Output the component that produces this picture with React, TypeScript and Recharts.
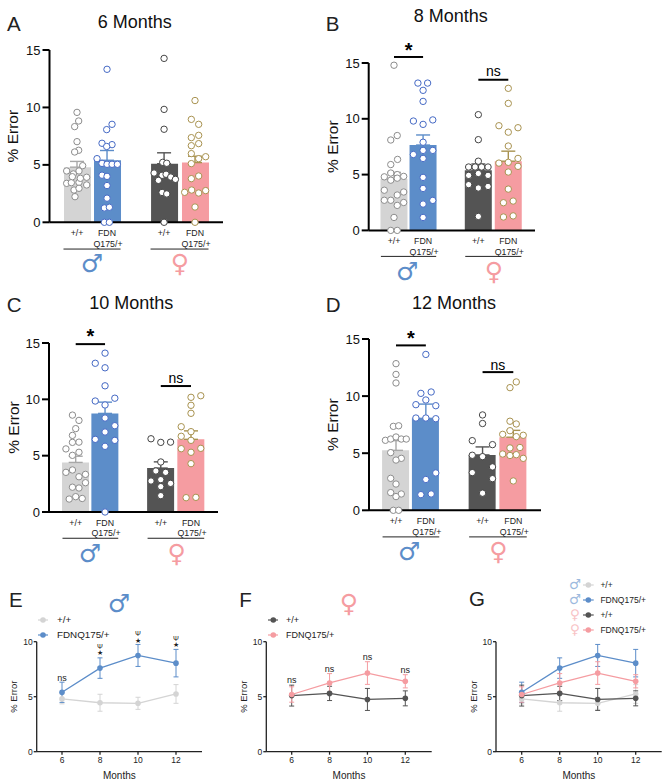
import React from "react";
import {
  ComposedChart, LineChart, Bar, Cell, Scatter, Line, XAxis, YAxis, ErrorBar,
  ReferenceLine, ReferenceDot, Legend,
} from "recharts";

type Pt = [number, number];

// Swarm dots: [horizontal jitter, % error]
const m6MaleWT: Pt[] = [[0,9.57],[5,8.82],[-7,8.33],[0,7.02],[5,6.27],[-7,6.12],[17,4.93],[-31,4.47],[6,4.47],[-11,4.21],[29,3.92],[-31,3.39],[-17,3.45],[6,3.48],[29,3.25],[-9,2.81],[6,2.96],[-6,2.23],[-14,3.97],[10,3.83]];
const m6MaleKO: Pt[] = [[0,13.32],[15,8.53],[-1,8.07],[-15,6.88],[15,6.76],[-1,6.6],[-30,5.54],[-15,5.13],[0,5.05],[15,5.05],[31,5.05],[-15,4.1],[0,4.0],[0,3.2],[0,2.1],[-8,1.25],[7,1.31],[-8,0],[7,0]];
const m6FemaleWT: Pt[] = [[0,14.27],[0,9.83],[0,8.1],[-4,5.22],[8,5.14],[-30,4.29],[-6,4.09],[6,4.18],[20,3.94],[34,3.74],[-17,3.65],[-6,2.6],[8,2.47],[0,0]];
const m6FemaleKO: Pt[] = [[0,10.6],[-11,8.96],[11,8.53],[-11,7.37],[11,7.57],[-11,6.67],[11,6.85],[-11,5.98],[11,5.54],[32,5.71],[-11,5.11],[-11,3.8],[11,4.03],[-31,2.61],[-10,2.81],[11,2.55],[32,2.76],[0,1.33],[0,0]];

const m8MaleWT: Pt[] = [[0,14.8],[10,8.5],[-10,8.1],[11,6.36],[-10,5.9],[-10,5.14],[10,5.0],[-30,4.8],[10,4.68],[30,4.84],[-10,4.5],[-30,3.6],[30,3.44],[10,3.17],[-30,2.7],[-10,2.7],[10,2.24],[30,2.5],[0,1.16],[-10,0],[10,0]];
const m8MaleKO: Pt[] = [[-16,13.2],[14,13.2],[0,12.55],[0,11.56],[-30,9.8],[30,9.9],[0,9.5],[0,7.9],[-30,6.8],[30,7.17],[0,7.17],[0,6.45],[0,4.75],[0,3.76],[0,2.36],[30,2.69],[0,1.16]];
const m8FemaleWT: Pt[] = [[0,10.37],[0,8.13],[0,6.2],[-30,5.68],[-10,5.68],[10,5.68],[30,5.68],[-30,4.93],[0,5.1],[30,4.93],[-30,4.1],[0,3.8],[30,3.94],[0,1.25]];
const m8FemaleKO: Pt[] = [[0,12.73],[0,11.38],[-29,9.38],[30,9.2],[0,8.8],[0,7.56],[30,6.45],[-29,6.03],[0,6.1],[30,5.74],[0,5.23],[0,3.7],[-15,2.48],[15,2.63],[-15,1.2],[15,1.3]];

const m10MaleWT: Pt[] = [[-10,8.6],[10,8.13],[0,7.4],[-10,6.8],[-10,6.18],[10,6.2],[-30,5.6],[10,5.3],[-10,5.03],[-30,3.52],[-10,3.73],[30,3.34],[10,3.13],[30,2.6],[-10,2.2],[10,2.13],[-20,1.15],[0,1.36],[20,1.2]];
const m10MaleKO: Pt[] = [[0,14.1],[-30,13.2],[0,12.8],[0,11.2],[-30,9.85],[30,10.1],[0,9.5],[0,8.34],[30,7.66],[0,7.1],[-30,6.45],[30,6.36],[0,5.83],[0,0]];
const m10FemaleWT: Pt[] = [[-30,6.5],[0,6.18],[30,6.2],[0,4.44],[-15,3.64],[15,3.52],[0,2.87],[-30,2.75],[30,2.54],[0,2.25],[0,1.45]];
const m10FemaleKO: Pt[] = [[30,10.32],[0,10.18],[0,9.47],[0,8.76],[-30,7.57],[0,7.13],[-30,6.72],[0,6.36],[-30,5.62],[0,5.3],[30,5.65],[0,4.29],[-15,1.27],[15,1.3]];

const m12MaleWT: Pt[] = [[0,12.84],[0,11.9],[0,11.15],[-8,7.35],[8,7.4],[-32,6.13],[-16,6.24],[0,6.42],[16,6.24],[31,6.24],[-16,5.05],[16,4.55],[0,4.4],[-16,2.8],[0,2.3],[-16,1.55],[16,1.43],[0,1.2],[-8,0],[8,0]];
const m12MaleKO: Pt[] = [[0,13.65],[-15,10.24],[16,10.36],[0,9.66],[-30,9.25],[30,9.16],[-30,8.08],[0,8.08],[30,8.02],[30,3.27],[0,2.7],[-15,1.37],[16,1.43]];
const m12FemaleWT: Pt[] = [[0,8.35],[0,7.6],[-31,6.1],[30,5.75],[-31,4.82],[0,4.7],[30,3.8],[-31,3.3],[30,2.77],[0,1.5]];
const m12FemaleKO: Pt[] = [[9,11.24],[-10,10.74],[-10,7.8],[9,7.56],[-10,6.97],[-32,6.65],[30,6.57],[9,6.45],[-10,5.46],[20,5.5],[-32,4.93],[-10,4.8],[9,4.87],[30,4.55],[0,2.57]];

// Bar means and SEM, in order male +/+, male FDNQ175/+, female +/+, female FDNQ175/+
const m6Means = [4.8, 5.4, 5.1, 5.2];
const m6Sem = [0.5, 0.85, 0.95, 0.55];
const m8Means = [4.6, 7.65, 5.4, 6.2];
const m8Sem = [0.6, 0.9, 0.55, 0.9];
const m10Means = [4.4, 8.75, 3.9, 6.45];
const m10Sem = [0.55, 1.0, 0.55, 0.75];
const m12Means = [5.25, 8.05, 4.85, 6.4];
const m12Sem = [0.85, 1.25, 0.7, 0.6];

// Longitudinal
const months = [6, 8, 10, 12];
const maleWT = [4.8, 4.45, 4.4, 5.25];
const maleWTErr = [0.45, 0.77, 0.55, 0.85];
const maleKO = [5.4, 7.6, 8.75, 8.05];
const maleKOErr = [0.92, 0.93, 1.0, 1.25];
const femaleWT = [5.1, 5.3, 4.75, 4.85];
const femaleWTErr = [0.95, 0.65, 1.0, 0.68];
const femaleKO = [5.2, 6.25, 7.15, 6.4];
const femaleKOErr = [0.7, 0.85, 1.03, 0.6];

const genotypeLabels = ["+/+", "FDN|Q175/+", "+/+", "FDN|Q175/+"];
const groupX = [1, 2, 3.9, 4.93];
const barColors = ["#d4d4d4", "#5c8dc9", "#545454", "#f59ca1"];
const errColors = ["#a8a8a8", "#5c8dc9", "#545454", "#a8924f"];
const dotColors = ["#8c8c8c", "#4468c4", "#444444", "#a8924f"];

const FONT = "'Liberation Sans', Arial, sans-serif";
const BLUE = "#5c8dc9";
const PINK = "#f59ca1";

type Sig = { pair: number; label: string; lineY: number; textY: number };

function BarPanel(p: {
  left: number; axisX: number; topY: number; zeroY: number; endX: number; c0: number; c3: number;
  means: number[]; sem: number[]; dots: Pt[][]; sigs: Sig[]; width: number;
}) {
  const T = p.topY - 40;
  const height = p.zeroY + 60 - T;
  const s = (p.c3 - p.c0) / (groupX[3] - groupX[0]);
  const domain: [number, number] = [(p.axisX - p.c0) / s + 1, (p.endX - p.c0) / s + 1];
  const rows = p.means.map((y, i) => ({ x: groupX[i], y, sem: [0, p.sem[i]] }));
  return (
    <div style={{ position: "absolute", left: p.left, top: T }}>
      <ComposedChart
        width={p.width}
        height={height}
        data={rows}
        margin={{ top: p.topY - T, left: 0, right: p.left + p.width - p.endX, bottom: 30 }}
      >
        <XAxis
          dataKey="x"
          type="number"
          domain={domain}
          ticks={groupX}
          height={30}
          interval={0}
          allowDataOverflow
          stroke="#000"
          strokeWidth={2}
          tickLine={false}
          tick={(t: any) => {
            const i = groupX.indexOf(t.payload.value);
            const parts = (genotypeLabels[i] ?? "").split("|");
            return (
              <g>
                {parts.map((w, k) => (
                  <text key={k} x={t.x + (k === 1 ? 1 : 0)} y={p.zeroY - T + 14 + k * 10.3} textAnchor="middle" fontSize={8.8} fontFamily={FONT} fill="#222">
                    {w}
                  </text>
                ))}
              </g>
            );
          }}
        />
        <XAxis xAxisId="dots" dataKey="x" type="number" domain={domain} allowDataOverflow hide height={0} />
        <YAxis
          type="number"
          domain={[0, 15]}
          ticks={[0, 5, 10, 15]}
          width={p.axisX - p.left}
          stroke="#000"
          strokeWidth={2}
          tickSize={7}
          tickMargin={2}
          tick={{ fontSize: 13, fontFamily: FONT, fill: "#111" }}
          label={{
            content: () => {
              const cx = 13;
              const cy = p.topY - T + (p.zeroY - p.topY) / 2;
              return (
                <text x={cx} y={cy} transform={`rotate(-90 ${cx} ${cy})`} textAnchor="middle" dominantBaseline="central" fontSize={15.5} fontFamily={FONT} fill="#111">
                  % Error
                </text>
              );
            },
          }}
        />
        <Bar dataKey="y" barSize={27} isAnimationActive={false}>
          {rows.map((_, i) => (
            <Cell key={i} fill={barColors[i]} />
          ))}
        </Bar>
        {rows.map((r, i) => (
          <Scatter key={"e" + i} xAxisId="dots" data={[r]} dataKey="y" shape={() => <g />} isAnimationActive={false}>
            <ErrorBar dataKey="sem" direction="y" width={7} stroke={errColors[i]} strokeWidth={1.4} isAnimationActive={false} />
          </Scatter>
        ))}
        {p.dots.map((set, i) => (
          <Scatter
            key={"d" + i}
            xAxisId="dots"
            data={set.map(([j, y]) => ({ x: groupX[i] + j / 90, y }))}
            dataKey="y"
            isAnimationActive={false}
            shape={(d: any) => <circle cx={d.cx} cy={d.cy} r={3.2} fill="#fff" stroke={dotColors[i]} strokeWidth={1} />}
          />
        ))}
        {[0, 2].map((g) => (
          <ReferenceLine
            key={"u" + g}
            ifOverflow="visible"
            stroke="#222"
            strokeWidth={1}
            segment={[{ x: groupX[g] - 0.45, y: -2.33 }, { x: groupX[g + 1] + 0.45, y: -2.33 }]}
          />
        ))}
        {p.sigs.map((g, k) => (
          <ReferenceLine
            key={"s" + k}
            ifOverflow="visible"
            stroke="#000"
            strokeWidth={2}
            segment={[{ x: groupX[g.pair], y: g.lineY }, { x: groupX[g.pair + 1], y: g.lineY }]}
          />
        ))}
        {p.sigs.map((g, k) => (
          <ReferenceDot
            key={"t" + k}
            x={(groupX[g.pair] + groupX[g.pair + 1]) / 2}
            y={g.textY}
            r={0}
            ifOverflow="visible"
            label={{
              value: g.label,
              position: "center",
              fontSize: g.label === "*" ? 20 : 14,
              fontWeight: g.label === "*" ? 700 : 400,
              fontFamily: FONT,
              fill: "#000",
            }}
          />
        ))}
      </ComposedChart>
    </div>
  );
}

type Ser = { name: string; values: number[]; errs: number[]; color: string };
type Note = { m: number; y: number; text: string; size: number };

function LinePanel(p: {
  left: number; width: number; axisX: number; x6: number; x12: number; endX: number;
  series: Ser[]; notes: Note[]; legend: { top: number; left: number; rowH: number; font: number; symbols?: { ch: string; color: string }[]; lineW: number; gap: number };
}) {
  const T = 570;
  const H = 214;
  const zero = 751.7;
  const ten = 641.7;
  const s = (p.x12 - p.x6) / 6;
  const domain: [number, number] = [6 + (p.axisX - p.x6) / s, 6 + (p.endX - p.x6) / s];
  const rows = months.map((m, i) => {
    const r: any = { m };
    p.series.forEach((c, k) => {
      r["v" + k] = c.values[i];
      r["e" + k] = c.errs[i];
    });
    return r;
  });
  return (
    <div style={{ position: "absolute", left: p.left, top: T }}>
      <LineChart
        width={p.width}
        height={H}
        data={rows}
        margin={{ top: ten - T, left: 0, right: p.left + p.width - p.endX, bottom: T + H - zero - 30 }}
      >
        <XAxis
          dataKey="m"
          type="number"
          domain={domain}
          ticks={months}
          interval={0}
          allowDataOverflow
          height={30}
          stroke="#222"
          strokeWidth={1.3}
          tickSize={3}
          tickMargin={2}
          tick={{ fontSize: 8.5, fontFamily: FONT, fill: "#222" }}
          label={{ value: "Months", position: "insideBottom", offset: 3, fontSize: 10, fontFamily: FONT, fill: "#222" }}
        />
        <YAxis
          type="number"
          domain={[0, 10]}
          ticks={[0, 5, 10]}
          width={p.axisX - p.left}
          stroke="#222"
          strokeWidth={1.3}
          tickSize={3}
          tickMargin={1}
          tick={{ fontSize: 8.5, fontFamily: FONT, fill: "#222" }}
          label={{
            content: () => {
              const cx = p.axisX - p.left - 22.7;
              const cy = (zero + ten) / 2 - T;
              return (
                <text x={cx} y={cy} transform={`rotate(-90 ${cx} ${cy})`} textAnchor="middle" dominantBaseline="central" fontSize={9.5} fontFamily={FONT} fill="#222">
                  % Error
                </text>
              );
            },
          }}
        />
        <Legend
          layout="vertical"
          align="center"
          verticalAlign="middle"
          itemSorter={null}
          wrapperStyle={{ top: p.legend.top, left: p.legend.left, width: "auto", transform: "none" }}
          content={(c: any) => (
            <div>
              {(c.payload ?? []).map((e: any, i: number) => (
                <div key={i} style={{ position: "relative", height: p.legend.rowH, display: "flex", alignItems: "center", fontFamily: FONT, fontSize: p.legend.font, color: "#222", whiteSpace: "nowrap" }}>
                  {p.legend.symbols && (
                    <span style={{ width: 10, marginRight: 3, display: "flex", justifyContent: "center", fontFamily: "'DejaVu Sans'", fontSize: 13.5, lineHeight: "15px", color: p.legend.symbols[i].color, opacity: 0.6 }}>{p.legend.symbols[i].ch}</span>
                  )}
                  <svg width={p.legend.lineW} height={8} style={{ marginRight: p.legend.gap }}>
                    <line x1={0} y1={4} x2={p.legend.lineW} y2={4} stroke={e.color} strokeWidth={1.2} />
                    <circle cx={p.legend.lineW / 2} cy={4} r={2.8} fill={e.color} />
                  </svg>
                  <span>{e.value}</span>
                </div>
              ))}
            </div>
          )}
        />
        {p.series.map((c, k) => (
          <Line
            key={k}
            dataKey={"v" + k}
            name={c.name}
            type="linear"
            stroke={c.color}
            strokeWidth={1.3}
            dot={{ r: 2.8, fill: c.color, stroke: c.color, strokeWidth: 0 }}
            activeDot={false}
            isAnimationActive={false}
          >
            <ErrorBar dataKey={"e" + k} direction="y" width={2.5} stroke={c.color} strokeWidth={1} isAnimationActive={false} />
          </Line>
        ))}
        {p.notes.map((n, k) => (
          <ReferenceDot
            key={k}
            x={n.m}
            y={n.y}
            r={0}
            ifOverflow="visible"
            label={{ value: n.text, position: "center", fontSize: n.size, fontFamily: FONT, fill: "#222" }}
          />
        ))}
      </LineChart>
    </div>
  );
}

const titles: [string, number, number][] = [
  ["6 Months", 97.7, 28],
  ["8 Months", 413.7, 22],
  ["10 Months", 89.3, 309],
  ["12 Months", 412, 309],
];
const letters: [string, number, number][] = [
  ["A", 7, 30.5],
  ["B", 325.7, 30.7],
  ["C", 6.7, 311.7],
  ["D", 325.7, 311.7],
  ["E", 9, 607],
  ["F", 239.3, 606.7],
  ["G", 469, 606],
];
const MARK = 25;
const sexMarks: [string, number, number, number, string][] = [
  ["♂", 92, 263, MARK, BLUE],
  ["♀", 180, 263, MARK, PINK],
  ["♂", 407.3, 271.7, MARK, BLUE],
  ["♀", 494, 271.7, MARK, PINK],
  ["♂", 90, 553, MARK, BLUE],
  ["♀", 176.7, 553, MARK, PINK],
  ["♂", 409.3, 551.7, MARK, BLUE],
  ["♀", 498.3, 551.7, MARK, PINK],
  ["♂", 119, 603, MARK, BLUE],
  ["♀", 349, 603, MARK, PINK],
];

const symM = { ch: "♂", color: BLUE };
const symF = { ch: "♀", color: PINK };

export default function App() {
  return (
    <div style={{ position: "absolute", left: 0, top: 0, width: 669, height: 784, background: "#fff", overflow: "hidden" }}>
      <BarPanel left={0} width={240} axisX={49.5} topY={50} zeroY={222.3} endX={223} c0={77} c3={195}
        means={m6Means} sem={m6Sem} dots={[m6MaleWT, m6MaleKO, m6FemaleWT, m6FemaleKO]} sigs={[]} />
      <BarPanel left={320} width={240} axisX={368.7} topY={63.3} zeroY={230.7} endX={535} c0={394} c3={508.3}
        means={m8Means} sem={m8Sem} dots={[m8MaleWT, m8MaleKO, m8FemaleWT, m8FemaleKO]}
        sigs={[{ pair: 0, label: "*", lineY: 15.54, textY: 16.2 }, { pair: 2, label: "ns", lineY: 13.5, textY: 14.25 }]} />
      <BarPanel left={0} width={240} axisX={49} topY={343.3} zeroY={512.3} endX={218} c0={75.7} c3={191}
        means={m10Means} sem={m10Sem} dots={[m10MaleWT, m10MaleKO, m10FemaleWT, m10FemaleKO]}
        sigs={[{ pair: 0, label: "*", lineY: 14.9, textY: 15.6 }, { pair: 2, label: "ns", lineY: 11.18, textY: 11.9 }]} />
      <BarPanel left={320} width={240} axisX={369} topY={339} zeroY={510.3} endX={541} c0={396} c3={513.3}
        means={m12Means} sem={m12Sem} dots={[m12MaleWT, m12MaleKO, m12FemaleWT, m12FemaleKO]}
        sigs={[{ pair: 0, label: "*", lineY: 14.44, textY: 15.1 }, { pair: 2, label: "ns", lineY: 12.1, textY: 12.72 }]} />

      <LinePanel left={0} width={225} axisX={36.7} x6={62} x12={176} endX={202}
        series={[
          { name: "+/+", values: maleWT, errs: maleWTErr, color: "#d4d4d4" },
          { name: "FDNQ175/+", values: maleKO, errs: maleKOErr, color: BLUE },
        ]}
        notes={[
          { m: 6, y: 6.73, text: "ns", size: 9 },
          { m: 8, y: 9.6, text: "Ψ", size: 7 },
          { m: 8, y: 9.0, text: "★", size: 7 },
          { m: 10, y: 10.76, text: "Ψ", size: 7 },
          { m: 10, y: 10.12, text: "★", size: 7 },
          { m: 12, y: 10.3, text: "Ψ", size: 7 },
          { m: 12, y: 9.7, text: "★", size: 7 },
        ]}
        legend={{ top: 42, left: 38, rowH: 15, font: 9.8, lineW: 10, gap: 9 }}
      />
      <LinePanel left={225} width={225} axisX={266.3} x6={291.7} x12={405.3} endX={431.7}
        series={[
          { name: "+/+", values: femaleWT, errs: femaleWTErr, color: "#545454" },
          { name: "FDNQ175/+", values: femaleKO, errs: femaleKOErr, color: PINK },
        ]}
        notes={[
          { m: 6, y: 6.5, text: "ns", size: 9 },
          { m: 8, y: 7.58, text: "ns", size: 9 },
          { m: 10, y: 8.64, text: "ns", size: 9 },
          { m: 12, y: 7.48, text: "ns", size: 9 },
        ]}
        legend={{ top: 42, left: 42.7, rowH: 15, font: 9, lineW: 10.6, gap: 7.7 }}
      />
      <LinePanel left={445} width={224} axisX={496} x6={521.7} x12={635.7} endX={661.7}
        series={[
          { name: "+/+", values: maleWT, errs: maleWTErr, color: "#d4d4d4" },
          { name: "FDNQ175/+", values: maleKO, errs: maleKOErr, color: BLUE },
          { name: "+/+", values: femaleWT, errs: femaleWTErr, color: "#545454" },
          { name: "FDNQ175/+", values: femaleKO, errs: femaleKOErr, color: PINK },
        ]}
        notes={[]}
        legend={{ top: 7, left: 125, rowH: 15, font: 8.5, lineW: 10.7, gap: 6.7, symbols: [symM, symM, symF, symF] }}
      />

      <svg width={669} height={784} style={{ position: "absolute", left: 0, top: 0, pointerEvents: "none" }}>
        {titles.map(([t, x, y]) => (
          <text key={t} x={x} y={y} fontSize={18} fontFamily={FONT} fill="#111">{t}</text>
        ))}
        {letters.map(([t, x, y]) => (
          <text key={t} x={x} y={y} fontSize={20.5} fontFamily={FONT} fill="#222">{t}</text>
        ))}
        {sexMarks.map(([t, x, y, size, color], i) => (
          <text key={i} x={x} y={y} fontSize={size} fontFamily="'DejaVu Sans'" fill={color} textAnchor="middle" dominantBaseline="central">{t}</text>
        ))}
      </svg>
    </div>
  );
}
